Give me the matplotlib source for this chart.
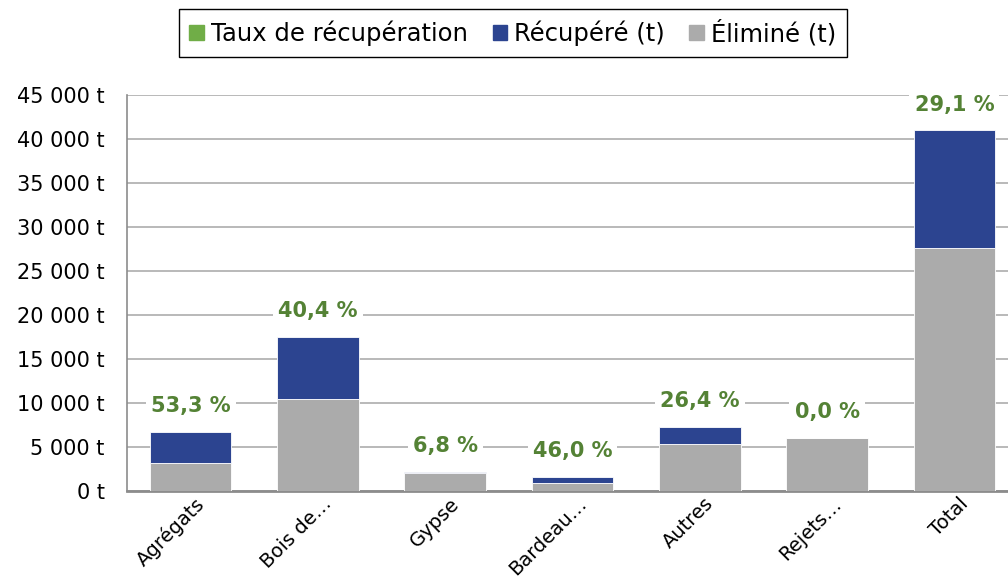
import matplotlib
matplotlib.use("Agg")
import matplotlib.pyplot as plt
from matplotlib.ticker import FuncFormatter, MultipleLocator
from matplotlib.patches import Patch
from matplotlib.transforms import ScaledTranslation

# données
categories = ["Agrégats", "Bois de…", "Gypse", "Bardeau…", "Autres", "Rejets…", "Total"]
elimine = [3130, 10460, 2010, 860, 5360, 6040, 27660]
recupere = [3570, 7090, 150, 730, 1930, 0, 13330]
taux = ["53,3 %", "40,4 %", "6,8 %", "46,0 %", "26,4 %", "0,0 %", "29,1 %"]

c_gris = "#ABABAB"
c_bleu = "#2C4490"
c_vert = "#70AD47"
c_vert_txt = "#548235"

plt.rcParams["font.family"] = ["DejaVu Sans"]

fig = plt.figure(figsize=(10.08, 5.80), dpi=100)
ax = fig.add_axes([127 / 1008, 1 - 491 / 580, 891 / 1008, (491 - 95) / 580])

x = range(len(categories))
ax.bar(x, elimine, width=0.64, color=c_gris, edgecolor="white", linewidth=0.6, zorder=3)
ax.bar(x, recupere, width=0.64, bottom=elimine, color=c_bleu, edgecolor="white", linewidth=0.6, zorder=3)

for i, t in enumerate(taux):
    top = elimine[i] + recupere[i]
    ax.annotate(t, (i, top), xytext=(0, 18.5), textcoords="offset points",
                ha="center", va="center", fontsize=15, fontweight="bold", color=c_vert_txt,
                bbox=dict(boxstyle="square,pad=0.25", fc="white", ec="none"), zorder=4)

ax.set_ylim(0, 45000)
ax.set_xlim(-0.5, len(categories) - 0.5)
ax.yaxis.set_major_locator(MultipleLocator(5000))
ax.yaxis.set_major_formatter(FuncFormatter(lambda v, p: f"{v:,.0f}".replace(",", " ") + " t"))
ax.grid(axis="y", color="#A6A6A6", linewidth=1.1, zorder=0)
ax.set_axisbelow(True)

ax.set_xticks(list(x))
ax.set_xticklabels(categories, rotation=45, ha="right", va="center", rotation_mode="anchor", fontsize=14)
ax.tick_params(axis="x", length=0, pad=7)
ax.tick_params(axis="y", length=0, pad=16, labelsize=15)
shift = ScaledTranslation(11 / 100, 0, fig.dpi_scale_trans)
for lab in ax.get_xticklabels():
    lab.set_transform(lab.get_transform() + shift)

for s in ["top", "right"]:
    ax.spines[s].set_visible(False)
ax.spines["left"].set_color("#8C8C8C")
ax.spines["left"].set_linewidth(1.2)
ax.spines["bottom"].set_color("#8C8C8C")
ax.spines["bottom"].set_linewidth(2)

handles = [Patch(color=c_vert), Patch(color=c_bleu), Patch(color=c_gris)]
labels = ["Taux de récupération", "Récupéré (t)", "Éliminé (t)"]
fig.legend(handles, labels, loc="center", bbox_to_anchor=(513 / 1008, 1 - 33 / 580), ncol=3,
           fontsize=17.5, frameon=True, fancybox=False, edgecolor="black", framealpha=1,
           handlelength=0.6, handleheight=0.6, handletextpad=0.3, columnspacing=1.0,
           borderpad=0.45)

fig.savefig("out.png", dpi=100)
